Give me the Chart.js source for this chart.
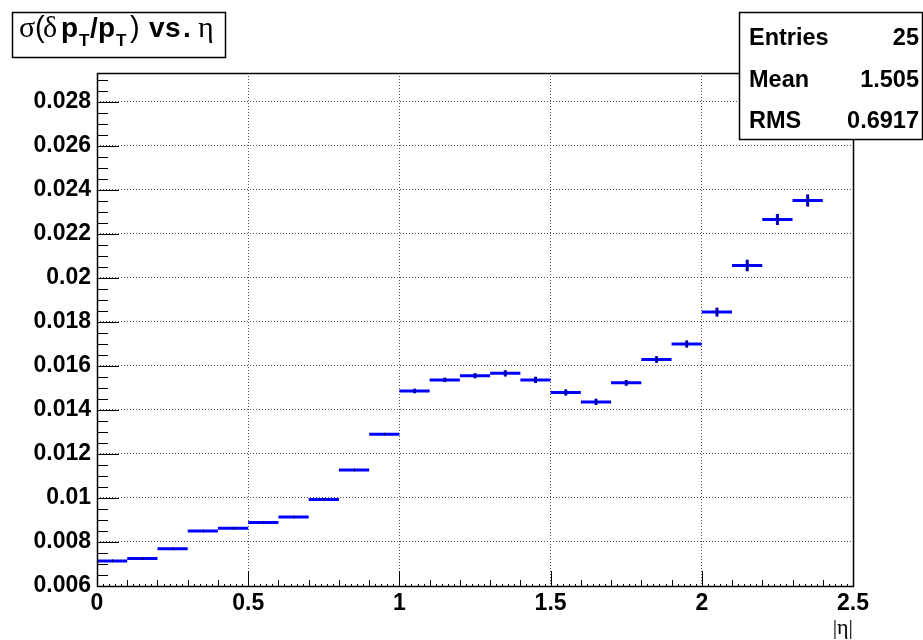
<!DOCTYPE html>
<html>
<head>
<meta charset="utf-8">
<script src="https://cdn.jsdelivr.net/npm/chart.js@4"></script>
<style>
  html, body { margin: 0; padding: 0; background: #fff; }
  #wrap { width: 923px; height: 640px; }
</style>
</head>
<body>
<div id="wrap"><canvas id="c" width="923" height="640"></canvas></div>
<script>
// bin centres in |eta| (bin width 0.1)
const binCenters = [0.05, 0.15, 0.25, 0.35, 0.45, 0.55, 0.65, 0.75, 0.85, 0.95,
                    1.05, 1.15, 1.25, 1.35, 1.45, 1.55, 1.65, 1.75, 1.85, 1.95,
                    2.05, 2.15, 2.25, 2.35];
const sigmaVals = [0.00714, 0.00725, 0.00769, 0.00850, 0.00862, 0.00888, 0.00913, 0.00993, 0.01127, 0.01289,
                   0.01486, 0.01536, 0.01555, 0.01566, 0.01536, 0.01479, 0.01436, 0.01523, 0.01629, 0.01699,
                   0.01844, 0.02056, 0.02265, 0.02351];
const sigmaErrs = [0.00003, 0.00003, 0.00003, 0.00004, 0.00004, 0.00005, 0.00004, 0.00005, 0.00005, 0.00007,
                   0.00010, 0.00010, 0.00011, 0.00014, 0.00014, 0.00014, 0.00014, 0.00013, 0.00015, 0.00016,
                   0.00020, 0.00026, 0.00025, 0.00027];
const binHalf = 0.05;

const xTicks = [0, 0.5, 1, 1.5, 2, 2.5];
const yTicks = [0.006, 0.008, 0.01, 0.012, 0.014, 0.016, 0.018, 0.02, 0.022, 0.024, 0.026, 0.028];

const statLabels = ['Entries', 'Mean', 'RMS'];
const statValues = ['25', '1.505', '0.6917'];

// error bars drawn through the chart scales
const errorBars = {
  id: 'errorBars',
  afterDatasetsDraw(chart) {
    const ctx = chart.ctx;
    const xs = chart.scales.x, ys = chart.scales.y;
    ctx.save();
    binCenters.forEach((c, i) => {
      const x0 = xs.getPixelForValue(c - binHalf);
      const x1 = xs.getPixelForValue(c + binHalf);
      const xc = xs.getPixelForValue(c);
      const y = ys.getPixelForValue(sigmaVals[i]);
      const yl = ys.getPixelForValue(sigmaVals[i] - sigmaErrs[i]);
      const yh = ys.getPixelForValue(sigmaVals[i] + sigmaErrs[i]);
      ctx.strokeStyle = '#0000ff';
      ctx.lineWidth = 3;
      ctx.beginPath();
      ctx.moveTo(x0, y); ctx.lineTo(x1, y);
      ctx.moveTo(xc, yl); ctx.lineTo(xc, yh);
      ctx.stroke();
      ctx.strokeStyle = '#000033';
      ctx.lineWidth = 1;
      ctx.beginPath();
      ctx.moveTo(xc + 0.5, Math.min(yh, y - 1.5)); ctx.lineTo(xc + 0.5, Math.max(yl, y + 1.5));
      ctx.stroke();
    });
    ctx.restore();
  }
};

// ROOT-like frame, inner ticks, title and stats boxes
const decorations = {
  id: 'decorations',
  afterDraw(chart) {
    const ctx = chart.ctx;
    const a = chart.chartArea;
    const xs = chart.scales.x, ys = chart.scales.y;
    ctx.save();
    ctx.strokeStyle = '#000';
    ctx.lineWidth = 1;

    // x ticks: 0.5 majors, 0.1 minors, 0.02 tiny
    ctx.beginPath();
    for (let k = 0; k <= 125; k++) {
      const v = k * 0.02;
      const px = Math.round(xs.getPixelForValue(v)) + 0.5;
      let len = 2;
      if (k % 25 === 0) len = 15;
      else if (k % 5 === 0) len = 6;
      ctx.moveTo(px, a.bottom); ctx.lineTo(px, a.bottom - len);
    }
    // y ticks: 0.002 majors, 0.0005 minors
    for (let k = 12; k <= 58; k++) {
      const v = k * 0.0005;
      const py = Math.round(ys.getPixelForValue(v)) + 0.5;
      const len = (k % 4 === 0) ? 22 : 11;
      ctx.moveTo(a.left, py); ctx.lineTo(a.left + len, py);
    }
    ctx.stroke();

    // frame
    ctx.lineWidth = 1.5;
    ctx.strokeRect(Math.round(a.left) + 0.5, Math.round(a.top) + 0.5,
                   Math.round(a.right - a.left), Math.round(a.bottom - a.top));

    // axis title
    ctx.fillStyle = '#000';
    ctx.font = '22px "Liberation Serif", "DejaVu Serif", serif';
    ctx.textAlign = 'right';
    ctx.textBaseline = 'alphabetic';
    ctx.fillText('|\u03b7|', a.right, 634);

    // title box
    ctx.fillStyle = '#fff';
    ctx.fillRect(12, 12, 213, 45);
    ctx.lineWidth = 1.5;
    ctx.strokeRect(12.5, 12.5, 213, 45);
    ctx.fillStyle = '#000';
    ctx.textAlign = 'left';
    const greek = '30px "Liberation Serif", "DejaVu Serif", serif';
    const paren = '29px "Liberation Sans", Arial, sans-serif';
    const bold = 'bold 28px "Liberation Sans", Arial, sans-serif';
    const sub = 'bold 17px "Liberation Sans", Arial, sans-serif';
    const base = 37;
    // [text, font, x, baseline shift]
    const parts = [
      ['\u03c3', greek, 19, 0], ['(', paren, 35, 0], ['\u03b4', greek, 43, 0], ['p', bold, 61, 0],
      ['T', sub, 79, 9], ['/', bold, 90, 0], ['p', bold, 98, 0], ['T', sub, 116, 9],
      [')', paren, 130, 0], ['v', bold, 149, 0], ['s', bold, 165, 0], ['.', bold, 183, 0],
      ['\u03b7', greek, 198, 0]
    ];
    parts.forEach(p => {
      ctx.font = p[1];
      ctx.fillText(p[0], p[2], base + p[3]);
    });

    // stats box
    ctx.fillStyle = '#fff';
    ctx.fillRect(739, 12, 184, 128);
    ctx.strokeRect(739.5, 12.5, 183, 127);
    ctx.fillStyle = '#000';
    ctx.font = 'bold 23.5px "Liberation Sans", Arial, sans-serif';
    statLabels.forEach((lab, i) => {
      const y = 45 + i * 41.5;
      ctx.textAlign = 'left';
      ctx.fillText(lab, 749, y);
      ctx.textAlign = 'right';
      ctx.fillText(statValues[i], 919, y);
    });
    ctx.restore();
  }
};

const tickFont = { family: '"Liberation Sans", Arial, sans-serif', size: 23, weight: 'bold' };

const ctx = document.getElementById('c').getContext('2d');
new Chart(ctx, {
  type: 'scatter',
  data: {
    datasets: [{
      data: binCenters.map((c, i) => ({ x: c, y: sigmaVals[i] })),
      pointRadius: 0,
      showLine: false
    }]
  },
  options: {
    responsive: false,
    animation: false,
    devicePixelRatio: 1,
    layout: { padding: { left: 0, top: 73, right: 70, bottom: 0 } },
    plugins: { legend: { display: false }, tooltip: { enabled: false } },
    scales: {
      x: {
        type: 'linear',
        min: 0,
        max: 2.5,
        afterBuildTicks: s => { s.ticks = xTicks.map(v => ({ value: v })); },
        afterFit: s => { s.height = 54; },
        ticks: {
          color: '#000',
          font: tickFont,
          padding: 4,
          maxRotation: 0,
          callback: v => String(v)
        },
        grid: { color: '#555', lineWidth: 1, drawTicks: false },
        border: { display: false, dash: [1, 2] }
      },
      y: {
        type: 'linear',
        min: 0.006,
        max: 0.0293,
        afterBuildTicks: s => { s.ticks = yTicks.map(v => ({ value: v })); },
        afterFit: s => { s.width = 97; },
        ticks: {
          color: '#000',
          font: tickFont,
          padding: 6,
          callback: v => String(v)
        },
        grid: { color: '#555', lineWidth: 1, drawTicks: false },
        border: { display: false, dash: [1, 2] }
      }
    }
  },
  plugins: [errorBars, decorations]
});
</script>
</body>
</html>
